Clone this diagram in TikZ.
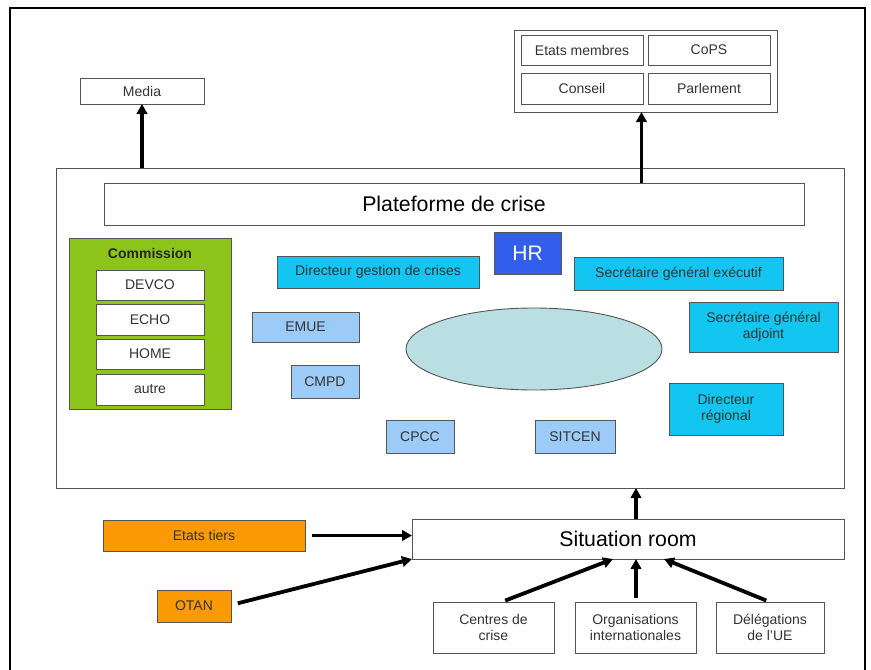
\documentclass[tikz,border=0pt]{standalone}
\usepackage{fontspec}
\setmainfont{Liberation Sans}
\usetikzlibrary{arrows.meta,shapes.geometric,calc}
\definecolor{txt}{HTML}{333333}
\definecolor{bordergray}{HTML}{555555}
\definecolor{commgreen}{HTML}{8CC41A}
\definecolor{cyanbox}{HTML}{13C6F2}
\definecolor{hrblue}{HTML}{335EEB}
\definecolor{lightblue}{HTML}{9DCBF7}
\definecolor{ellfill}{HTML}{B9DFE2}
\definecolor{orangebox}{HTML}{FB9A05}
\tikzset{
  box/.style={draw=bordergray, line width=0.9pt, fill=white, inner sep=0pt, outer sep=0pt, align=center, text=txt, font=\fontsize{14}{16}\selectfont},
  cyanb/.style={box, fill=cyanbox},
  lblue/.style={box, fill=lightblue},
  orb/.style={box, fill=orangebox},
  bigbox/.style={box, text=black, font=\fontsize{21.3}{24}\selectfont},
  arr/.style={line width=3.8pt, -{Triangle[length=10pt,width=10.5pt]}},
}
\begin{document}
\begin{tikzpicture}[x=1pt,y=-1pt]
\useasboundingbox (0,0) rectangle (871,670);
\fill[white] (0,0) rectangle (871,670);
% outer frame
\draw[line width=2.8pt] (10,672) -- (10,8) -- (865,8) -- (865,672);

% top nodes
\node[box, minimum width=124pt, minimum height=26pt] (media) at (142,91) {Media};
\node[box, minimum width=263pt, minimum height=82pt] (grp) at (645.5,71) {};
\node[box, minimum width=122pt, minimum height=30pt] (em) at (582,50) {Etats membres};
\node[box, minimum width=122pt, minimum height=30pt] (cops) at (709,50) {CoPS};
\node[box, minimum width=122pt, minimum height=31pt] (conseil) at (582,88.5) {Conseil};
\node[box, minimum width=122pt, minimum height=31pt] (parl) at (709,88.5) {Parlement};

% main platform
\node[box, minimum width=788pt, minimum height=320pt] (main) at (450,328) {};
\node[bigbox, minimum width=700pt, minimum height=42pt] (plat) at (454,204) {Plateforme de crise};

% commission
\node[box, draw=bordergray, fill=commgreen, minimum width=162pt, minimum height=171pt] (comm) at (150,323.5) {};
\node[text=black!85, font=\fontsize{14}{16}\selectfont\bfseries, inner sep=0pt] (commt) at (150,253) {Commission};
\node[box, minimum width=108pt, minimum height=30pt] (devco) at (150,285) {DEVCO};
\node[box, minimum width=108pt, minimum height=31pt] (echo) at (150,319.5) {ECHO};
\node[box, minimum width=108pt, minimum height=30pt] (home) at (150,354) {HOME};
\node[box, minimum width=108pt, minimum height=31pt] (autre) at (150,389.5) {autre};

% actors
\node[cyanb, minimum width=202pt, minimum height=32pt] (dgc) at (378,272) {Directeur gestion de crises};
\node[box, fill=hrblue, text=white, font=\fontsize{21}{24}\selectfont, minimum width=67pt, minimum height=42pt] (hr) at (527.5,253) {HR};
\node[cyanb, minimum width=209pt, minimum height=33pt] (sge) at (678.5,273.5) {Secrétaire général exécutif};
\node[cyanb, minimum width=149pt, minimum height=50pt] (sga) at (763.5,327) {Secrétaire général\\adjoint};
\node[lblue, minimum width=107pt, minimum height=30pt] (emue) at (305.5,327) {EMUE};
\node[ellipse, draw=bordergray, line width=0.9pt, fill=ellfill, minimum width=256pt, minimum height=82pt, inner sep=0pt] (ell) at (534,349) {};
\node[lblue, minimum width=68pt, minimum height=33pt] (cmpd) at (325,381.5) {CMPD};
\node[cyanb, minimum width=114pt, minimum height=52pt] (dr) at (726,409) {Directeur\\régional};
\node[lblue, minimum width=68pt, minimum height=33pt] (cpcc) at (420,437) {CPCC};
\node[lblue, minimum width=80pt, minimum height=33pt] (sitcen) at (575,437) {SITCEN};

% situation room and sources
\node[bigbox, minimum width=432pt, minimum height=40pt] (sit) at (628,539) {Situation room};
\node[orb, minimum width=202pt, minimum height=31pt] (et) at (204,535.5) {Etats tiers};
\node[orb, minimum width=74pt, minimum height=32pt] (otan) at (194,606) {OTAN};
\node[box, minimum width=121pt, minimum height=51pt] (cdc) at (493.5,627.5) {Centres de\\crise};
\node[box, minimum width=121pt, minimum height=51pt] (oi) at (635.5,627.5) {Organisations\\internationales};
\node[box, minimum width=108pt, minimum height=51pt] (del) at (770,627.5) {Délégations\\de l'UE};

% connectors
\draw[arr] (media.south |- main.north) -- (media.south);
\draw[arr] ([xshift=-4pt]grp.south |- plat.north) -- ([xshift=-4pt]grp.south);
\draw[arr] ([xshift=8pt]sit.north) -- ([xshift=8pt]sit.north |- main.south);
\draw[arr, shorten <=7pt] (et.east) -- (sit.west |- et.east);
\draw[arr, shorten <=7pt] ([yshift=1pt]otan.east) -- (sit.south west);
\draw[arr, shorten <=4pt] ([xshift=8pt]cdc.north) -- ([xshift=-15pt]sit.south);
\draw[arr, shorten <=4pt] ([xshift=0.5pt]oi.north) -- ([xshift=8pt]sit.south);
\draw[arr, shorten <=4pt] (del.north) -- ([xshift=36pt]sit.south);
\end{tikzpicture}
\end{document}
